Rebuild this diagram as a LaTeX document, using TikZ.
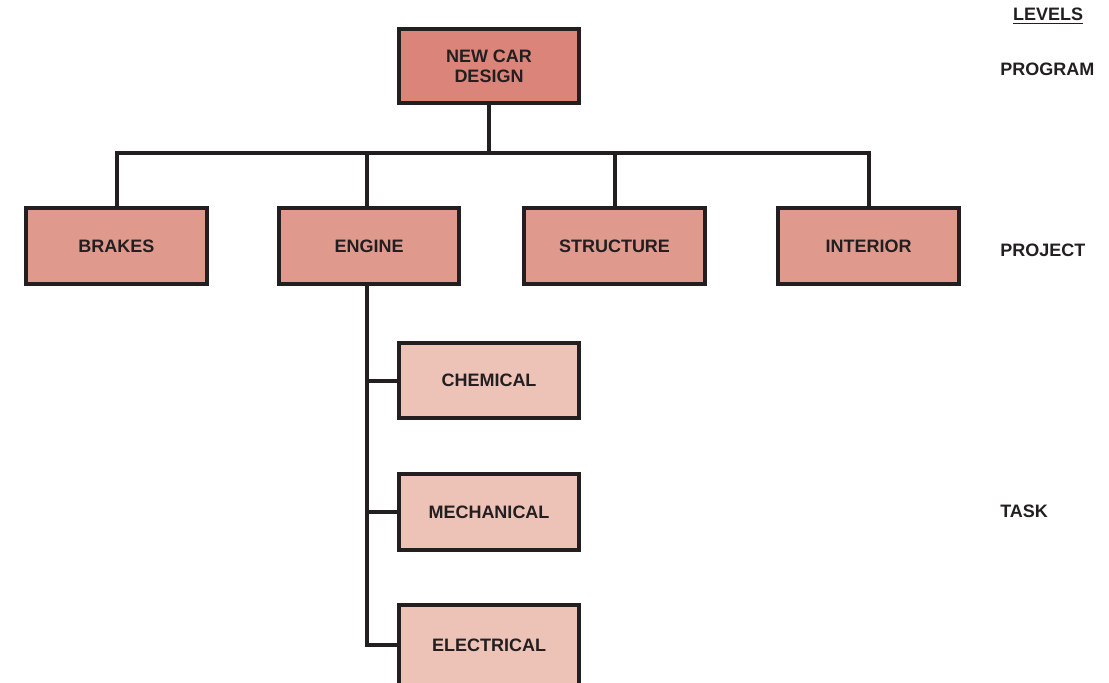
\documentclass[tikz,border=0pt]{standalone}
\usepackage{fontspec}
\setmainfont{Liberation Sans}
\usetikzlibrary{backgrounds}
\definecolor{ink}{HTML}{231F20}
\definecolor{progc}{HTML}{DB857A}
\definecolor{projc}{HTML}{E09A8D}
\definecolor{taskc}{HTML}{EDC3B7}
\begin{document}
\begin{tikzpicture}[x=0.75pt,y=-0.75pt,
  box/.style={draw=ink,line width=3pt,minimum width=135.5pt,minimum height=57pt,inner sep=0pt,
    font=\fontsize{13.5}{15}\selectfont\bfseries,text=ink,align=center},
  progbox/.style={box,fill=progc,minimum height=55.5pt},
  projbox/.style={box,fill=projc},
  taskbox/.style={box,fill=taskc,minimum height=56.5pt},
  link/.style={draw=ink,line width=3pt},
  lvl/.style={font=\fontsize{13.5}{15}\selectfont\bfseries,text=ink,inner sep=0pt,anchor=west}]
\useasboundingbox (0,0) rectangle (1109,682);
\begin{scope}
\clip (0,0) rectangle (1109,682);
\node[progbox] (top) at (489,66) {NEW CAR\\DESIGN};
\node[projbox] (brakes) at (116.5,246) {BRAKES};
\node[projbox] (engine) at (369,246) {\raisebox{-1.5pt}{ENGINE}};
\node[projbox] (structure) at (614.5,246) {STRUCTURE};
\node[projbox] (interior) at (868.5,246) {INTERIOR};
\node[taskbox] (chemical) at (489,380.5) {CHEMICAL};
\node[taskbox] (mechanical) at (489,512) {MECHANICAL};
\node[taskbox,minimum height=60pt] (electrical) at (489,645) {ELECTRICAL};
\begin{scope}[on background layer]
\coordinate (bus) at (489,153);
\coordinate (enx) at ([xshift=-1.5pt]engine.south);
\draw[link] (brakes.north) |- (bus) -| (interior.north);
\draw[link] (top.south) -- (bus);
\draw[link] (enx |- engine.north) -- (enx |- bus);
\draw[link] (structure.north) -- (structure.north |- bus);
\draw[link] (enx) |- (electrical.west);
\draw[link] (chemical.west) -- (chemical.west -| enx);
\draw[link] (mechanical.west) -- (mechanical.west -| enx);
\end{scope}
\end{scope}
\node[lvl,anchor=center] (levels) at (1048,16) {\underline{LEVELS}};
\node[lvl] (program) at (1000,69) {PROGRAM};
\node[lvl] (project) at (1000,250) {PROJECT};
\node[lvl] (task) at (1000,511) {TASK};
\end{tikzpicture}
\end{document}
